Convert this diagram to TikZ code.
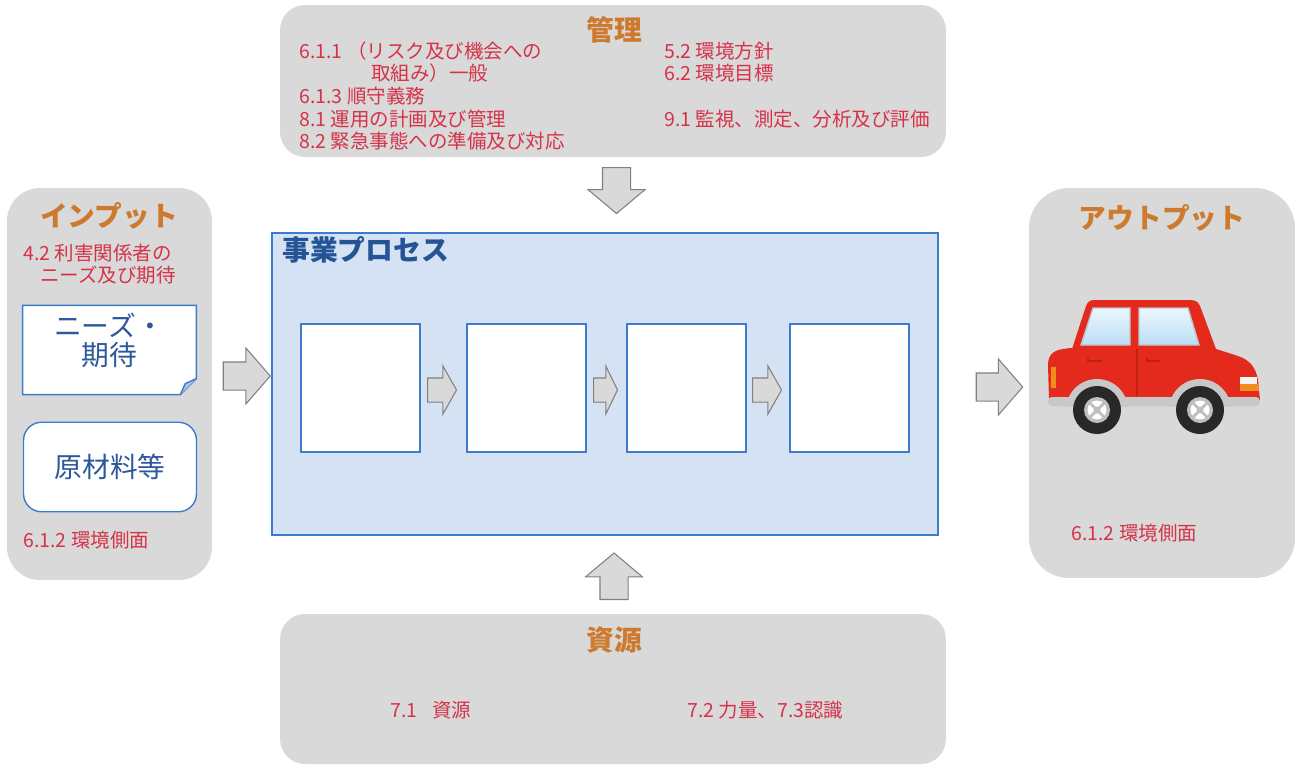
\documentclass[tikz,border=0pt]{standalone}
\usepackage{fontspec}
\setmainfont{Noto Sans CJK JP}
\usetikzlibrary{shapes.arrows, positioning, calc}
\definecolor{boxgray}{RGB}{217,217,217}
\definecolor{headorange}{RGB}{205,122,46}
\definecolor{itemred}{RGB}{214,50,72}
\definecolor{lineblue}{RGB}{60,124,204}
\definecolor{procfill}{RGB}{212,226,244}
\definecolor{proctitle}{RGB}{36,84,150}
\definecolor{notetext}{RGB}{44,88,158}
\definecolor{foldblue}{RGB}{170,196,235}
\definecolor{arrowgray}{RGB}{128,128,128}
\definecolor{carred}{RGB}{228,42,28}
\definecolor{cardark}{RGB}{196,30,20}
\definecolor{glasstop}{RGB}{236,247,253}
\definecolor{glassbot}{RGB}{186,222,244}
\definecolor{glassedge}{RGB}{190,196,204}
\definecolor{stripgray}{RGB}{200,200,200}
\definecolor{tireblack}{RGB}{40,40,40}
\definecolor{hubgray}{RGB}{190,190,190}
\definecolor{lamporange}{RGB}{242,140,30}

\begin{document}
\begin{tikzpicture}[x=0.02cm, y=-0.02cm,
  panel/.style={fill=boxgray, inner sep=0pt, outer sep=0pt},
  head/.style={font=\fontsize{15.8}{18}\selectfont\bfseries, text=headorange, inner sep=0pt},
  item/.style={font=\fontsize{11.1}{13}\selectfont, text=itemred, anchor=west, inner sep=0pt},
  inbox/.style={draw=lineblue, line width=0.8pt, fill=white, inner sep=0pt,
    font=\fontsize{15.8}{16.5}\selectfont, text=notetext},
  stepbox/.style={draw=lineblue, line width=0.8pt, fill=white, inner sep=0pt,
    minimum width=23.8mm, minimum height=25.6mm},
  blockarrow/.style={single arrow, draw=arrowgray, fill=boxgray, line width=0.6pt,
    anchor=tail, inner xsep=0pt, single arrow head indent=0pt},
  bigarrow/.style={blockarrow, inner ysep=2.7mm, single arrow head extend=2.8mm,
    minimum height=9.4mm, single arrow tip angle=98},
  uparrow/.style={blockarrow, inner ysep=0pt, inner xsep=2.7mm, single arrow head extend=2.9mm,
    minimum height=9.3mm, single arrow tip angle=100},
  smallarrow/.style={blockarrow, inner ysep=2.3mm, single arrow head extend=2.4mm,
    single arrow tip angle=121, minimum height=5.8mm},
]
\fill[white] (0,0) rectangle (1298,765);
\useasboundingbox (0,0) rectangle (1298,765);

% panels
\node[panel, rounded corners=5mm, minimum width=133.2mm, minimum height=30.4mm] (ctrl) at (613,81) {};
\node[panel, rounded corners=6.6mm, minimum width=41mm, minimum height=78.4mm] (input) at (109.5,384) {};
\node[panel, rounded corners=8mm, minimum width=53.2mm, minimum height=78mm] (output) at (1162,383) {};
\node[panel, rounded corners=5mm, minimum width=133.2mm, minimum height=30mm] (res) at (613,689) {};
\node[draw=lineblue, line width=0.8pt, fill=procfill, inner sep=0pt, minimum width=133.2mm, minimum height=60.4mm] (proc) at (605,384) {};

% titles
\node[head] (ctrltitle) at (614,30) {管理};
\node[head] (inputtitle) at (109,216) {インプット};
\node[head] (outputtitle) at (1162,218) {アウトプット};
\node[head] (restitle) at (614,640) {資源};
\node[head, text=proctitle, anchor=west] (proctitle) at (282,250) {事業プロセス};

\node[item] (c611) at (299,51) {6.1.1 （リスク及び機会への};
\node[item] (c611b) at (371,73) {取組み）一般};
\node[item] (c613) at (299,96) {6.1.3 順守義務};
\node[item] (c81) at (299,119) {8.1 運用の計画及び管理};
\node[item] (c82) at (299,141) {8.2 緊急事態への準備及び対応};
\node[item] (c52) at (664,51) {5.2 環境方針};
\node[item] (c62) at (664,73) {6.2 環境目標};
\node[item] (c91) at (664,119) {9.1 監視、測定、分析及び評価};

\node[item] (i42) at (23,253) {4.2 利害関係者の};
\node[item] (i42b) at (40,275) {ニーズ及び期待};
\node[item] (i612) at (23,540) {6.1.2 環境側面};
\node[item] (o612) at (1071,533) {6.1.2 環境側面};
\node[item] (r71) at (390,710) {7.1\hspace{0.75em}資源};
\node[item] (r72) at (687,710) {7.2 力量、7.3認識};

% inputs
\node[inner sep=0pt, minimum width=34.6mm, minimum height=17.7mm] (needs) at (109.5,350) {};
\draw[lineblue, line width=0.8pt, fill=white] (needs.north west) -- (needs.north east)
  -- ($(needs.south east)+(0,-16)$) -- ($(needs.south east)+(-16,0)$) -- (needs.south west) -- cycle;
\draw[lineblue, line width=0.8pt, fill=foldblue] ($(needs.south east)+(-16,0)$)
  -- ($(needs.south east)+(-11,-11)$) -- ($(needs.south east)+(0,-16)$);
\node[font=\fontsize{15.8}{16.5}\selectfont, text=notetext, align=center, inner sep=0pt] (needstext) at (109,340) {ニーズ・\\期待};
\node[inbox, rounded corners=3.6mm, minimum width=34.6mm, minimum height=17.9mm] (material) at (110,467) {原材料等};

% process steps
\node[stepbox] (step1) at (360.5,388) {};
\node[stepbox] (step2) at (526.5,388) {};
\node[stepbox] (step3) at (686.5,388) {};
\node[stepbox] (step4) at (849.5,388) {};
\node[smallarrow] (go1) at (427,390) {};
\node[smallarrow, minimum height=4.8mm, single arrow tip angle=128] (go2) at (593,390) {};
\node[smallarrow] (go3) at (752,390) {};

% block arrows
\node[bigarrow] (toproc) at (222.7,376) {};
\node[uparrow, minimum height=9.2mm, shape border rotate=270] (fromctrl) at (616.5,167) {};
\node[uparrow, shape border rotate=90] (fromres) at (614,600) {};
\node[bigarrow, minimum height=9.3mm] (toout) at (975.7,387) {};

% car
\fill[carred] (1072,349) -- (1086,306) .. controls (1088,301) and (1090,300) .. (1096,300)
  -- (1190,300) .. controls (1196,300) and (1198,302) .. (1200,306) -- (1216,349) -- cycle;
\fill[carred] (1049,400) -- (1048,365) .. controls (1048,352) and (1056,349) .. (1072,348)
  -- (1213,348) -- (1238,356) .. controls (1250,360) and (1256,368) .. (1258,380) -- (1260,400) -- cycle;
\shade[top color=glasstop, bottom color=glassbot, draw=glassedge, line width=0.8pt]
  (1093,308) -- (1130,308) -- (1130,345) -- (1081,345) -- cycle;
\shade[top color=glasstop, bottom color=glassbot, draw=glassedge, line width=0.8pt]
  (1139,308) -- (1188,308) -- (1199,345) -- (1139,345) -- cycle;
\draw[cardark, line width=0.6pt] (1137,349) -- (1137,396);
\draw[cardark, line width=0.6pt] (1088,358) -- (1088,361) -- (1102,361);
\draw[cardark, line width=0.6pt] (1147,358) -- (1147,361) -- (1160,361);
\fill[lamporange] (1051,367) rectangle (1056,388);
\fill[white!92!gray] (1240,377) rectangle (1257,384);
\fill[lamporange] (1240,384) rectangle (1259,391);
\fill[stripgray, rounded corners=0.8mm] (1048,397) rectangle (1260,406);
\begin{scope}
  \clip (1040,340) rectangle (1270,406);
  \fill[stripgray] (1097,410) circle (31);
  \fill[stripgray] (1200,410) circle (31);
\end{scope}
\foreach \cx in {1097,1200} {
  \fill[tireblack] (\cx,410) circle (24);
  \fill[hubgray] (\cx,410) circle (13);
  \fill[white] (\cx,410) circle (9.5);
  \draw[hubgray, line width=1.6pt] (\cx,410) ++(-8,-8) -- ++(16,16);
  \draw[hubgray, line width=1.6pt] (\cx,410) ++(8,-8) -- ++(-16,16);
  \fill[hubgray] (\cx,410) circle (3.5);
}
\end{tikzpicture}
\end{document}
